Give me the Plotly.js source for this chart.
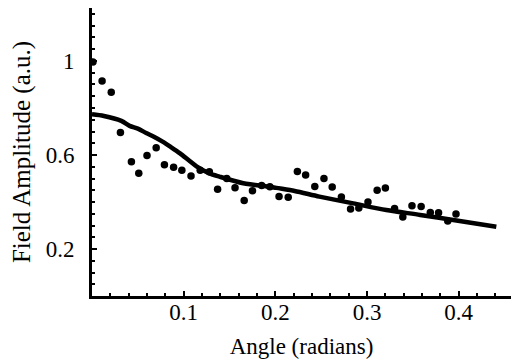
<!DOCTYPE html>
<html>
<head>
<meta charset="utf-8">
<script src="https://cdn.plot.ly/plotly-3.0.1.min.js"></script>
<style>html,body{margin:0;padding:0;background:#fff;}#chart{width:511px;height:362px;}</style>
</head>
<body>
<div id="chart"></div>
<script>
// Measured data points (angle in radians, amplitude in a.u.)
const pointAngles = [0.001,0.011,0.021,0.031,0.043,0.051,0.060,0.070,0.079,0.089,0.098,0.108,0.118,0.128,0.137,0.147,0.156,0.166,0.175,0.185,0.194,0.204,0.214,0.224,0.233,0.243,0.253,0.262,0.272,0.282,0.291,0.301,0.311,0.320,0.330,0.339,0.349,0.359,0.369,0.378,0.388,0.397];
const pointValues = [0.996,0.915,0.867,0.696,0.571,0.522,0.598,0.631,0.559,0.548,0.535,0.511,0.535,0.529,0.454,0.500,0.461,0.406,0.448,0.470,0.465,0.423,0.420,0.530,0.515,0.466,0.500,0.464,0.421,0.370,0.374,0.400,0.450,0.460,0.372,0.336,0.384,0.381,0.355,0.354,0.319,0.349];

// Model curve
const curveAngles = [0.000,0.013,0.032,0.041,0.050,0.059,0.068,0.077,0.086,0.096,0.114,0.128,0.139,0.165,0.194,0.201,0.221,0.248,0.285,0.321,0.358,0.394,0.441];
const curveValues = [0.773,0.766,0.745,0.724,0.712,0.694,0.677,0.657,0.634,0.607,0.552,0.522,0.508,0.480,0.465,0.460,0.447,0.423,0.394,0.366,0.345,0.323,0.295];

// Tick labels
const xTickVals = [0.1, 0.2, 0.3, 0.4];
const xTickText = ['0.1', '0.2', '0.3', '0.4'];
const yTickVals = [0.2, 0.6, 1.0];
const yTickText = ['0.2', '0.6', '1'];

const xTitle = 'Angle (radians)';
const yTitle = 'Field Amplitude (a.u.)';

const fam = '"Liberation Serif", "Times New Roman", serif';
const tickFont = {family: fam, size: 23, color: '#000'};
const xTitleFont = {family: fam, size: 23, color: '#000'};
const yTitleFont = {family: fam, size: 25, color: '#000'};

const traces = [
  {x: curveAngles, y: curveValues, mode: 'lines', line: {color: '#000', width: 4.5, shape: 'spline', smoothing: 0.8}, hoverinfo: 'skip'},
  {x: pointAngles, y: pointValues, mode: 'markers', marker: {color: '#000', size: 7.5}}
];

const axisCommon = {
  showgrid: false, zeroline: false, showline: true, linecolor: '#000', linewidth: 3,
  ticks: 'inside', ticklen: 5, tickwidth: 2, tickcolor: '#000',
  tickfont: tickFont, mirror: false, tickmode: 'array'
};

const layout = {
  width: 511, height: 362,
  margin: {l: 92, r: 0, t: 8, b: 66},
  paper_bgcolor: '#fff', plot_bgcolor: '#fff',
  showlegend: false,
  font: tickFont,
  xaxis: Object.assign({}, axisCommon, {
    range: [0, 0.457], tickvals: xTickVals, ticktext: xTickText,
    ticklabelstandoff: -7,
    minor: {tickmode: 'linear', tick0: 0, dtick: 0.02, ticks: 'inside', ticklen: 3, tickwidth: 2, tickcolor: '#000'},
    title: {text: xTitle, font: xTitleFont, standoff: 15}
  }),
  yaxis: Object.assign({}, axisCommon, {
    range: [0, 1.2255], tickvals: yTickVals, ticktext: yTickText,
    ticklabelstandoff: 10,
    minor: {tickmode: 'linear', tick0: 0, dtick: 0.05, ticks: 'inside', ticklen: 3, tickwidth: 2, tickcolor: '#000'},
    title: {text: yTitle, font: yTitleFont, standoff: 8}
  })
};

Plotly.newPlot('chart', traces, layout, {staticPlot: true, displayModeBar: false});
</script>
</body>
</html>
